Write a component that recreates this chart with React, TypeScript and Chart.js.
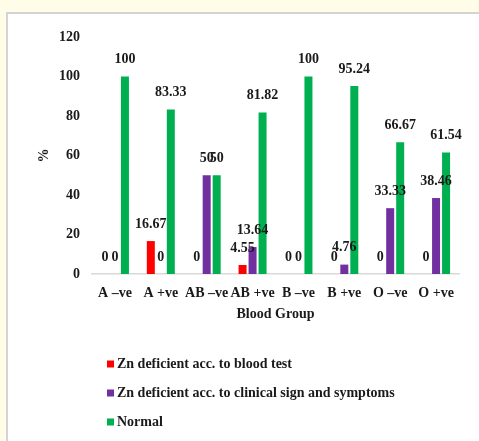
import React, { useEffect, useRef } from "react";
import { Chart, registerables } from "chart.js";

Chart.register(...registerables);

const categories = ["A \u2013ve", "A +ve", "AB \u2013ve", "AB +ve", "B \u2013ve", "B +ve", "O \u2013ve", "O +ve"];
const bloodTestValues = [0, 16.67, 0, 4.55, 0, 0, 0, 0];
const clinicalValues = [0, 0, 50, 13.64, 0, 4.76, 33.33, 38.46];
const normalValues = [100, 83.33, 50, 81.82, 100, 95.24, 66.67, 61.54];
const seriesNames = [
  "Zn deficient acc. to blood test",
  "Zn deficient acc. to clinical sign and symptoms",
  "Normal",
];
const seriesColors = ["#FF0000", "#7030A0", "#00B050"];
const yTicks = [0, 20, 40, 60, 80, 100, 120];

const FONT = "'Liberation Serif', 'Times New Roman', serif";

const valueLabelPlugin = {
  id: "valueLabels",
  afterDatasetsDraw(chart: any) {
    const ctx = chart.ctx;
    ctx.save();
    ctx.font = `bold 14px ${FONT}`;
    ctx.fillStyle = "#1a1a1a";
    ctx.textAlign = "center";
    ctx.textBaseline = "middle";
    chart.data.datasets.forEach((ds: any, di: number) => {
      const meta = chart.getDatasetMeta(di);
      meta.data.forEach((el: any, i: number) => {
        const v = ds.data[i];
        ctx.fillText(String(v), el.x, el.y - 17);
      });
    });
    ctx.restore();
  },
};

const customLegendPlugin = {
  id: "customLegend",
  afterDraw(chart: any) {
    const ctx = chart.ctx;
    ctx.save();
    ctx.font = `bold 14px ${FONT}`;
    ctx.textAlign = "left";
    ctx.textBaseline = "middle";
    chart.data.datasets.forEach((ds: any, i: number) => {
      const y = 364 + i * 29;
      ctx.fillStyle = ds.backgroundColor;
      ctx.fillRect(107, y - 3.5, 7, 7);
      ctx.fillStyle = "#1a1a1a";
      ctx.fillText(ds.label, 117, y);
    });
    ctx.restore();
  },
};

export default function App() {
  const canvasRef = useRef<HTMLCanvasElement | null>(null);

  useEffect(() => {
    if (!canvasRef.current) return;
    const chart = new Chart(canvasRef.current, {
      type: "bar",
      data: {
        labels: categories,
        datasets: [
          { label: seriesNames[0], data: bloodTestValues, backgroundColor: seriesColors[0] },
          { label: seriesNames[1], data: clinicalValues, backgroundColor: seriesColors[1] },
          { label: seriesNames[2], data: normalValues, backgroundColor: seriesColors[2] },
        ],
      },
      options: {
        animation: false,
        responsive: true,
        maintainAspectRatio: false,
        layout: { padding: { left: 0, right: 20, top: 37, bottom: 117 } },
        datasets: { bar: { categoryPercentage: 0.654, barPercentage: 0.8 } },
        plugins: {
          legend: { display: false },
          tooltip: { enabled: false },
        },
        scales: {
          x: {
            grid: { display: false, drawTicks: false },
            border: { display: true, color: "#D9D9D9", width: 1.5 },
            ticks: {
              color: "#1a1a1a",
              font: { family: FONT, size: 14, weight: "bold" },
              padding: 11,
              maxRotation: 0,
              autoSkip: false,
            },
            title: {
              display: true,
              text: "Blood Group",
              color: "#1a1a1a",
              font: { family: FONT, size: 14, weight: "bold" },
              padding: { top: 0, bottom: 1 },
            },
            afterFit(scale: any) {
              scale.height = 50;
            },
          },
          y: {
            min: 0,
            max: 120,
            grid: { display: false, drawTicks: false },
            border: { display: false },
            afterBuildTicks(scale: any) {
              scale.ticks = yTicks.map((v) => ({ value: v }));
            },
            ticks: {
              color: "#1a1a1a",
              font: { family: FONT, size: 14, weight: "bold" },
              padding: 12,
            },
            title: {
              display: true,
              text: "%",
              color: "#1a1a1a",
              font: { family: FONT, size: 14, weight: "bold" },
              padding: { top: 36, bottom: 0 },
            },
            afterFit(scale: any) {
              scale.width = 92;
            },
          },
        },
      },
      plugins: [valueLabelPlugin, customLegendPlugin],
    });
    return () => chart.destroy();
  }, []);

  return (
    <div style={{ position: "fixed", inset: 0, background: "#FFFDE8", overflow: "hidden" }}>
      <div
        style={{
          position: "absolute",
          left: 6,
          top: 12,
          width: 520,
          height: 480,
          border: "2px solid #D4D4D4",
          background: "#FFFFFF",
        }}
      />
      <div style={{ position: "absolute", left: 0, top: 0, width: 479, height: 441 }}>
        <canvas ref={canvasRef} />
      </div>
    </div>
  );
}
